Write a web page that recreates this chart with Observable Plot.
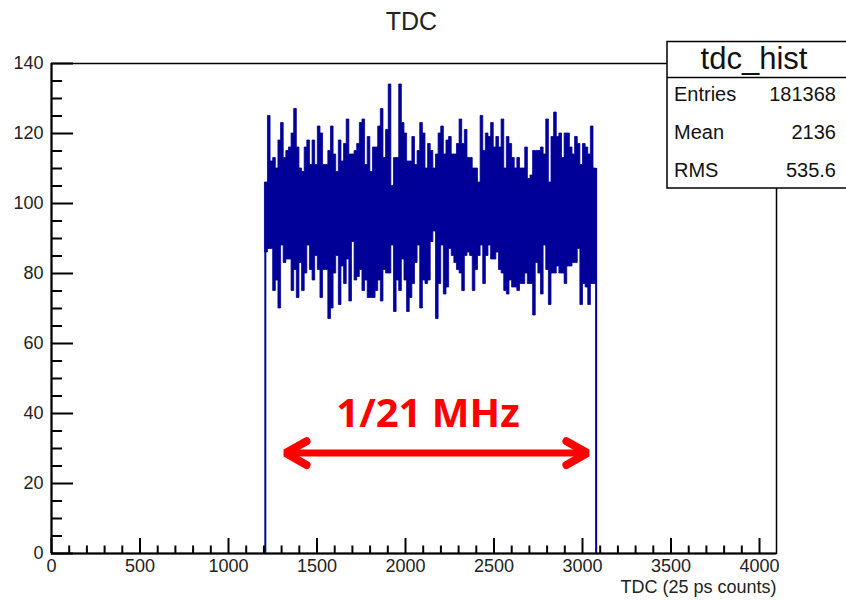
<!DOCTYPE html>
<html><head><meta charset="utf-8">
<script src="https://cdn.jsdelivr.net/npm/d3@7"></script>
<script src="https://cdn.jsdelivr.net/npm/@observablehq/plot@0.6"></script>
<style>html,body{margin:0;padding:0;background:#fff;} svg{display:block;}</style>
</head><body><div id="chart"></div>
<script>
// ---- data ----
const highCounts = [
  106,125,112,113,110,118,123,113,115,116,120,127,116,110,109,116,118,111,118,111,122,120,111,111,115,122,114,109,118,112,117,
  124,114,114,115,117,123,124,111,119,109,116,116,122,127,113,121,134,105,113,113,134,123,120,112,112,119,111,115,123,120,110,117,
  115,110,114,120,122,114,118,119,114,114,117,124,117,121,113,113,110,110,106,125,115,120,119,123,116,119,116,124,110,119,117,113,110,
  113,110,110,116,107,108,115,115,115,116,114,124,106,119,126,119,120,113,120,120,116,114,119,117,111,117,116,114,122,110
];
const lowCounts = [
  86,87,87,75,78,70,88,83,84,84,75,81,73,83,75,80,88,81,78,85,81,73,81,81,67,70,80,85,71,82,77,
  84,72,89,78,79,81,75,78,73,73,73,75,78,72,81,80,80,88,69,78,75,84,78,69,73,77,83,88,70,78,77,78,
  89,92,67,77,88,74,76,87,85,83,81,80,75,85,86,85,75,81,85,88,77,85,88,84,84,86,81,80,75,74,78,76,76,
  75,77,77,80,77,77,68,83,80,74,88,81,71,80,80,82,80,80,77,82,82,83,83,87,71,77,76,71,77,77
];
const binStart = 1208, binEnd = 3077;
const xDomain = [0, 4096];
const yDomain = [0, 140];
const yMajor = [0, 20, 40, 60, 80, 100, 120, 140];
const yMinor = d3.range(0, 141, 5).filter(v => v % 20 !== 0);
const xMajor = [0, 500, 1000, 1500, 2000, 2500, 3000, 3500, 4000];
const xMinor = d3.range(0, 4097, 100).filter(v => v % 500 !== 0);
const chartTitle = "TDC";
const xTitle = "TDC (25 ps counts)";
const histName = "tdc_hist";
const statsLabels = ["Entries", "Mean", "RMS"];
const statsValues = ["181368", "2136", "535.6"];
const annoText = ["1/21 MHz"];
const annoTextAt = [2127, 39.7];
const arrowVertices = [1322, 3028];
const arrowLevel = 28.7;
const headLen = 119, headHalf = 3.4;

// ---- build ----
const binWidth = (binEnd - binStart) / highCounts.length;
const bins = highCounts.map((h, i) => ({x: binStart + i * binWidth, high: h, low: lowCounts[i]}));
bins.push({x: binEnd, high: highCounts[highCounts.length - 1], low: lowCounts[lowCounts.length - 1]});

const W = 846, H = 600, mL = 51, mR = 70, mT = 63, mB = 47;
const innerW = W - mL - mR, innerH = H - mT - mB;
const blue = "#000099";
const font = "'Liberation Sans', Arial, Helvetica, sans-serif";
const fmt = d3.format("d");

const heads = [
  {x: arrowVertices[0] + headLen, y: arrowLevel + headHalf, z: "L"},
  {x: arrowVertices[0], y: arrowLevel, z: "L"},
  {x: arrowVertices[0] + headLen, y: arrowLevel - headHalf, z: "L"},
  {x: arrowVertices[1] - headLen, y: arrowLevel + headHalf, z: "R"},
  {x: arrowVertices[1], y: arrowLevel, z: "R"},
  {x: arrowVertices[1] - headLen, y: arrowLevel - headHalf, z: "R"}
];

const plot = Plot.plot({
  width: W, height: H,
  marginLeft: mL, marginRight: mR, marginTop: mT, marginBottom: mB,
  x: {domain: xDomain},
  y: {domain: yDomain},
  style: {fontFamily: font, background: "white", overflow: "visible"},
  marks: [
    Plot.areaY(bins, {x: "x", y1: "low", y2: "high", curve: "step-after", fill: blue, stroke: blue, strokeWidth: 0.8}),
    Plot.ruleX([bins[0], bins[bins.length - 1]], {x: "x", y1: 0, y2: "high", stroke: blue, strokeWidth: 2}),
    Plot.frame({stroke: "black", strokeWidth: 1.5}),
    Plot.ruleX([0], {stroke: "black", strokeWidth: 2}),
    Plot.ruleY([0], {stroke: "black", strokeWidth: 2}),
    Plot.tickY(yMajor, {y: d => d, insetRight: innerW - 22, stroke: "black", strokeWidth: 2}),
    Plot.tickY(yMinor, {y: d => d, insetRight: innerW - 11, stroke: "black", strokeWidth: 2}),
    Plot.tickX(xMajor, {x: d => d, insetTop: innerH - 15, stroke: "black", strokeWidth: 2}),
    Plot.tickX(xMinor, {x: d => d, insetTop: innerH - 7.5, stroke: "black", strokeWidth: 2}),
    Plot.axisY(yMajor, {tickSize: 0, tickPadding: 8, fontSize: 18, color: "#222", label: null, tickFormat: fmt}),
    Plot.axisX(xMajor, {tickSize: 0, tickPadding: 6, fontSize: 18, color: "#222", label: null, tickFormat: fmt}),
    Plot.ruleY([arrowLevel], {x1: arrowVertices[0], x2: arrowVertices[1], stroke: "red", strokeWidth: 7}),
    Plot.line(heads, {x: "x", y: "y", z: "z", stroke: "red", strokeWidth: 8, strokeLinecap: "round", strokeLinejoin: "miter"}),
    Plot.text(annoText, {x: () => annoTextAt[0], y: () => annoTextAt[1], text: d => d, fill: "red",
      fontSize: 40, fontWeight: "bold", fontFamily: "'Open Sans', sans-serif", textAnchor: "middle"})
  ]
});

const svg = d3.select(plot);
svg.append("text").attr("x", 411.5).attr("y", 30).attr("text-anchor", "middle")
  .attr("font-family", font).attr("font-size", 25).attr("fill", "#222").text(chartTitle);
svg.append("text").attr("x", W - mR + 0.5).attr("y", 593).attr("text-anchor", "end")
  .attr("font-family", font).attr("font-size", 18).attr("fill", "#222").text(xTitle);

const g = svg.append("g").attr("font-family", font).attr("fill", "#111");
g.append("rect").attr("x", 667).attr("y", 41.5).attr("width", 190).attr("height", 146.5)
  .attr("fill", "white").attr("stroke", "black").attr("stroke-width", 1.5);
g.append("line").attr("x1", 667).attr("x2", 850).attr("y1", 77.5).attr("y2", 77.5)
  .attr("stroke", "black").attr("stroke-width", 1.5);
g.append("text").attr("x", 754).attr("y", 68.5).attr("text-anchor", "middle").attr("font-size", 31).text(histName);
statsLabels.forEach((lab, i) => {
  const yy = 101 + i * 38;
  g.append("text").attr("x", 674).attr("y", yy).attr("text-anchor", "start").attr("font-size", 20).text(lab);
  g.append("text").attr("x", 836).attr("y", yy).attr("text-anchor", "end").attr("font-size", 20).text(statsValues[i]);
});

document.getElementById("chart").appendChild(plot);
</script>
</body></html>
